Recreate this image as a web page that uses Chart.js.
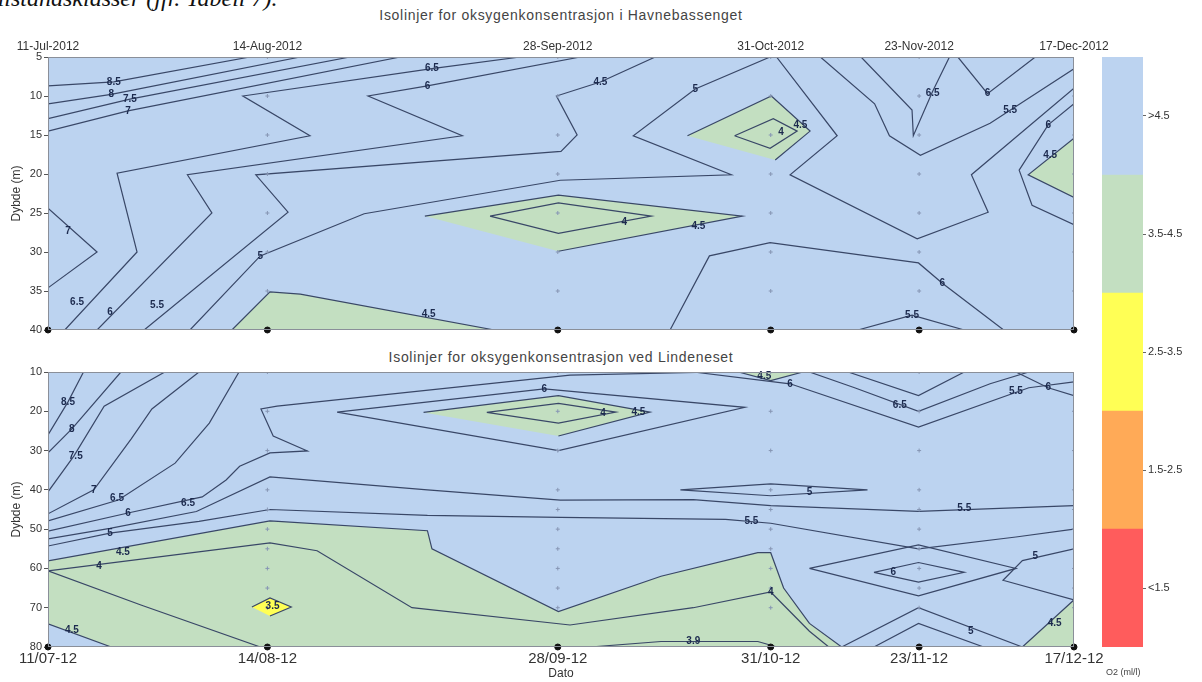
<!DOCTYPE html>
<html>
<head>
<meta charset="utf-8">
<script src="https://cdn.jsdelivr.net/npm/chart.js@4.4.1/dist/chart.umd.min.js"></script>
<style>
  html, body { margin: 0; padding: 0; background: #fff; width: 1202px; height: 682px; overflow: hidden;
               font-family: "Liberation Sans", Arial, sans-serif; }
  .abs { position: absolute; }
  #doc { left: -9px; top: -15px; font: italic 24px "Liberation Serif", serif; color: #111; white-space: nowrap; }
  .ttl { font-size: 14px; letter-spacing: 0.7px; color: #444; white-space: nowrap; transform: translateX(-50%); }
  #unit { left: 1106px; top: 667px; font-size: 9px; color: #444; }
</style>
</head>
<body>
<div id="doc" class="abs">tilstandsklasser (jfr. Tabell 7).</div>
<div class="abs ttl" style="left:561px; top:7px;">Isolinjer for oksygenkonsentrasjon i Havnebassenget</div>
<div class="abs ttl" style="left:561px; top:349px;">Isolinjer for oksygenkonsentrasjon ved Lindeneset</div>
<canvas id="havn" class="abs" style="left:0; top:0;" width="1130" height="340"></canvas>
<canvas id="lind" class="abs" style="left:0; top:340px;" width="1130" height="342"></canvas>
<canvas id="cbar" class="abs" style="left:1090px; top:40px;" width="112" height="642"></canvas>
<div id="unit" class="abs">O2 (ml/l)</div>
<script>
'use strict';

// ── Axes ──────────────────────────────────────────────────────────────────
const SAMPLE_DAYS     = [0, 34, 79, 112, 135, 159];   // days after 11 Jul 2012
const TOP_DATE_LABELS = ['11-Jul-2012', '14-Aug-2012', '28-Sep-2012', '31-Oct-2012', '23-Nov-2012', '17-Dec-2012'];
const BOT_DATE_LABELS = ['11/07-12', '14/08-12', '28/09-12', '31/10-12', '23/11-12', '17/12-12'];
const HAVN_DEPTHS     = [5, 10, 15, 20, 25, 30, 35, 40];
const LIND_DEPTHS     = [10, 20, 30, 40, 50, 60, 70, 80];

// ── Colour classes (O2, ml/l) ─────────────────────────────────────────────
const O2_CLASSES = ['<1.5', '1.5-2.5', '2.5-3.5', '3.5-4.5', '>4.5'];
const O2_COLOURS = ['#ff5c5c', '#ffaa57', '#ffff55', '#c3dfc1', '#bcd3f0'];
const COL_LINE   = '#394767';

// ── Havnebassenget: isolines [day, depth] ─────────────────────────────────
const HAVN_ISOLINES = [
  [[0, 8.7], [10.2, 8.2], [31.3, 5]],
  [[0, 11.0], [9.8, 9.8], [39.1, 5]],
  [[0, 12.9], [12.7, 10.4], [46.8, 5]],
  [[0, 14.5], [12.4, 11.9], [54.6, 5]],
  [[0, 24.4], [7.6, 30.0], [0, 34.6]],
  [[2.6, 40], [13.8, 30.0], [10.7, 19.9], [40.6, 15.1], [30.2, 10.0], [59.5, 6.5], [73.2, 5]],
  [[7.6, 40], [25.4, 25.0], [21.6, 20.1], [64.2, 15.1], [49.6, 10.0], [58.8, 8.7], [82.5, 5]],
  [[14.9, 40], [37.2, 24.9], [32.2, 20.1], [79.5, 17.1], [82.0, 15.0], [78.8, 10.0], [85.6, 8.2], [94.1, 5]],
  [[22.0, 40], [32.9, 30.5], [49.0, 25.1], [79.4, 20.8], [105.9, 20.1], [90.7, 15.1], [100.3, 9.1], [111.9, 5]],
  [[112.9, 5], [122.3, 15.1], [115.0, 20.1], [134.7, 28.3], [145.7, 24.9], [143.1, 20.1], [159, 9.0]],
  [[119.7, 5], [128.1, 11.0], [130.4, 15.1], [135.2, 17.6], [146.0, 13.5], [159, 6.5]],
  [[126.0, 5], [133.9, 11.8], [134.1, 15.1], [137.1, 9.4], [139.7, 5]],
  [[141.0, 5], [145.6, 9.7], [153.0, 5]],
  [[159, 11.0], [155.0, 13.7], [150.5, 19.5], [152.5, 24.0], [159, 26.5]],
  [[96.4, 40], [102.5, 30.5], [111.9, 28.8], [134.9, 31.4], [138.6, 34.0], [148.1, 40]],
  [[125.5, 40], [133.9, 38.1], [142.0, 40]],
  [[68.5, 25.4], [79.1, 23.7], [93.5, 25.4], [79.1, 27.6], [68.5, 25.4]],
  [[106.4, 15.1], [112.4, 12.9], [116.1, 14.5], [111.9, 16.7], [106.4, 15.1]],
];
const HAVN_GREEN = [
  [[28.5, 40], [34.4, 35.1], [39.1, 35.4], [69.2, 40]],
  [[58.4, 25.4], [79.1, 22.7], [107.6, 25.4], [79.1, 29.9]],
  [[99.1, 15.1], [112.1, 10.0], [118.1, 14.5], [112.7, 18.2]],
  [[159, 15.4], [151.9, 20.1], [159, 23.0]],
];
const HAVN_LABELS = [
  [10.2, 8.2, '8.5'], [9.8, 9.8, '8'], [12.7, 10.4, '7.5'], [12.4, 11.9, '7'], [3.1, 27.4, '7'],
  [4.5, 36.5, '6.5'], [9.6, 37.7, '6'], [16.9, 36.8, '5.5'], [32.9, 30.5, '5'], [59.5, 6.5, '6.5'],
  [58.8, 8.7, '6'], [85.6, 8.2, '4.5'], [100.3, 9.1, '5'], [59.0, 38.0, '4.5'], [89.3, 26.2, '4'],
  [100.8, 26.7, '4.5'], [116.6, 13.7, '4.5'], [113.6, 14.7, '4'], [155.3, 17.6, '4.5'],
  [149.1, 11.8, '5.5'], [137.1, 9.7, '6.5'], [145.6, 9.7, '6'], [155.0, 13.7, '6'],
  [138.6, 34.0, '6'], [133.9, 38.1, '5.5'],
];
const HAVN_SAMPLE_DEPTHS = [5, 10, 15, 20, 25, 30, 35];

// ── Lindeneset: isolines [day, depth] ─────────────────────────────────────
const LIND_ISOLINES = [
  [[0, 26.0], [3.1, 17.6], [5.5, 10]],
  [[0, 30.6], [3.7, 24.5], [11.3, 10]],
  [[0, 40.5], [4.0, 31.4], [8.7, 18.7], [18.1, 10]],
  [[0, 46.1], [7.1, 40.0], [12.9, 27.0], [16.1, 19.4], [23.4, 10]],
  [[0, 47.9], [10.9, 42.6], [19.7, 33.2], [25.0, 23.0], [29.6, 10]],
  [[0, 50.5], [12.4, 45.9], [23.9, 41.8], [27.6, 37.5], [29.7, 34.0], [34.4, 30.6], [40.2, 30.1],
   [34.9, 26.3], [33.0, 19.4], [35.5, 18.7], [80.9, 10.8], [104, 10]],
  [[0, 52.5], [9.6, 49.8], [23.0, 45.5], [34.4, 36.7], [58.8, 40.0], [79.4, 42.6], [100, 42.5],
   [112, 44.0], [134.9, 45.5], [159, 44.0]],
  [[0, 54.3], [9.6, 51.0], [23.4, 48.0], [34.4, 45.0], [58.8, 46.5], [79.4, 47.0], [105, 47.5],
   [112, 48.5], [134.9, 55.0], [150, 52.0], [159, 50.0]],
  [[0, 60.6], [34.4, 53.5], [41.7, 55.5], [56.4, 70.0], [80.9, 74.4], [100, 70.0], [112, 66.0], [118, 76.0], [121, 80]],
  [[0, 60.6], [14.4, 69.3], [32.9, 80]],
  [[84, 80], [95, 78.6], [110, 78.6], [113, 80]],
  [[44.8, 20.2], [76.9, 14.3], [108, 19.0], [79.1, 30.0], [44.8, 20.2]],
  [[68.0, 20.3], [79.1, 18.0], [88.0, 20.2], [79.1, 23.0], [68.0, 20.3]],
  [[118, 10], [125, 14], [134.9, 20], [146, 13], [152, 10]],
  [[124, 10], [134.9, 16], [142, 10]],
  [[100, 10], [115, 13], [134.9, 24], [152, 14], [159, 12.5]],
  [[150, 10], [155, 14], [159, 16]],
  [[98, 40], [112, 38.5], [127, 40], [112, 41.5], [98, 40]],
  [[118, 60], [134.9, 54], [150, 60], [134.9, 67], [118, 60]],
  [[128, 61], [134.9, 58.5], [142, 61], [134.9, 63.5], [128, 61]],
  [[159, 55], [151, 58], [148, 63], [159, 68]],
  [[123, 80], [134.9, 70], [151, 80]],
  [[128, 80], [134.9, 74], [145, 80]],
];
const LIND_GREEN = [
  [[0, 58.1], [34.4, 47.9], [58.8, 50.4], [59.5, 55.0], [79.1, 71.0], [95, 62], [110, 56], [112, 56],
   [114, 65], [118, 74], [123, 80], [9.8, 80], [0, 74.1]],
  [[58.2, 20.3], [79.1, 16.0], [93.3, 20.2], [79.1, 26.3]],
  [[107, 10], [112, 12.2], [117, 10]],
  [[151, 80], [159, 68], [159, 80]],
];
const LIND_YELLOW = [
  [[31.6, 69.8], [34.4, 67.5], [37.7, 69.8], [34.4, 72.1]],
];
const LIND_LABELS = [
  [3.1, 17.6, '8.5'], [3.7, 24.5, '8'], [4.3, 31.4, '7.5'], [7.1, 40.0, '7'], [10.7, 42.1, '6.5'],
  [12.4, 45.9, '6'], [21.7, 43.3, '6.5'], [9.6, 51.0, '5'], [11.6, 55.8, '4.5'], [7.9, 59.4, '4'],
  [3.7, 75.8, '4.5'], [34.8, 69.6, '3.5'], [76.9, 14.3, '6'], [91.5, 20.2, '4.5'], [86.0, 20.4, '4'],
  [111, 11, '4.5'], [132, 18.5, '6.5'], [115, 13, '6'], [150, 15, '5.5'], [155, 14, '6'],
  [118, 40.6, '5'], [142, 44.8, '5.5'], [131, 61, '6'], [153, 57, '5'], [109, 48, '5.5'],
  [112, 66, '4'], [100, 78.6, '3.9'], [156, 74, '4.5'], [143, 76, '5'],
];
const LIND_SAMPLE_DEPTHS = [10, 20, 30, 40, 45, 50, 55, 60, 65, 70];

// ── Helpers ───────────────────────────────────────────────────────────────
const toXY = pts => pts.map(p => ({ x: p[0], y: p[1] }));

const lineSet = pts => ({
  data: toXY(pts), showLine: true, borderColor: COL_LINE, borderWidth: 1.2,
  pointRadius: 0, fill: false, tension: 0, order: 2,
});
const areaSet = (pts, colour) => ({
  data: toXY(pts), showLine: true, borderColor: COL_LINE, borderWidth: 1.2,
  pointRadius: 0, fill: 'shape', backgroundColor: colour, tension: 0, order: 3,
});

function sampleSets(sampleDepths, maxDepth) {
  const small = [], bottom = [];
  SAMPLE_DAYS.forEach((d, i) => {
    if (i > 0) sampleDepths.forEach(z => small.push({ x: d, y: z }));
    bottom.push({ x: d, y: maxDepth });
  });
  return [
    { data: small, pointStyle: 'cross', pointRadius: 2, borderColor: '#8796b4', borderWidth: 1, order: 1 },
    { data: bottom, pointStyle: 'circle', pointRadius: 3, backgroundColor: '#111', borderColor: '#111', order: 0, clip: false },
  ];
}

// Paints panel background, contour labels and frame.
const panelPlugin = {
  id: 'panel',
  beforeDatasetsDraw(chart) {
    const { ctx, chartArea: a } = chart;
    ctx.save();
    ctx.fillStyle = O2_COLOURS[4];
    ctx.fillRect(a.left, a.top, a.width, a.height);
    ctx.restore();
  },
  afterDatasetsDraw(chart, args, opts) {
    const { ctx, chartArea: a, scales } = chart;
    ctx.save();
    ctx.font = 'bold 10px "Liberation Sans", Arial, sans-serif';
    ctx.fillStyle = '#1c2a4e';
    ctx.textAlign = 'center';
    ctx.textBaseline = 'middle';
    (opts.labels || []).forEach(([d, z, t]) => {
      ctx.fillText(t, scales.x.getPixelForValue(d), scales.y.getPixelForValue(z));
    });
    ctx.strokeStyle = '#8a8f99';
    ctx.lineWidth = 1;
    ctx.strokeRect(a.left + 0.5, a.top + 0.5, a.width - 1, a.height - 1);
    ctx.restore();
  },
};

Chart.defaults.font.family = '"Liberation Sans", Arial, sans-serif';
Chart.defaults.color = '#333';

function buildPanel(canvasId, o) {
  const datasets = [
    ...o.green.map(p => areaSet(p, O2_COLOURS[3])),
    ...(o.yellow || []).map(p => ({ ...areaSet(p, O2_COLOURS[2]), order: 2.5 })),
    ...o.lines.map(lineSet),
    ...sampleSets(o.samples, o.depths[o.depths.length - 1]),
  ];
  return new Chart(document.getElementById(canvasId), {
    type: 'scatter',
    data: { datasets },
    plugins: [panelPlugin],
    options: {
      responsive: false,
      animation: false,
      layout: { padding: o.padding },
      plugins: { legend: { display: false }, tooltip: { enabled: false }, panel: { labels: o.labels } },
      scales: {
        x: {
          type: 'linear', position: o.xPos, min: 0, max: 159,
          afterBuildTicks: s => { s.ticks = SAMPLE_DAYS.map(v => ({ value: v })); },
          afterFit: s => { s.height = o.xHeight; },
          ticks: { callback: (v, i) => o.dateLabels[i], font: { size: o.xFont }, color: '#333',
                   padding: 3, maxRotation: 0, autoSkip: false },
          grid: { display: false, drawTicks: false },
          border: { display: false },
          title: o.xTitle ? { display: true, text: o.xTitle, font: { size: 12 }, color: '#333', padding: { top: 0, bottom: 1 } }
                          : { display: false },
        },
        y: {
          type: 'linear', reverse: true, min: o.depths[0], max: o.depths[o.depths.length - 1],
          afterBuildTicks: s => { s.ticks = o.depths.map(v => ({ value: v })); },
          afterFit: s => { s.width = 48; },
          ticks: { font: { size: 11 }, color: '#333', padding: 2 },
          grid: { display: true, drawOnChartArea: false, tickLength: 4, color: '#555' },
          border: { display: false },
          title: { display: true, text: 'Dybde (m)', font: { size: 12 }, color: '#333', padding: { top: 9, bottom: 0 } },
        },
      },
    },
  });
}

buildPanel('havn', {
  lines: HAVN_ISOLINES, green: HAVN_GREEN, labels: HAVN_LABELS, samples: HAVN_SAMPLE_DEPTHS,
  depths: HAVN_DEPTHS, dateLabels: TOP_DATE_LABELS, xPos: 'top', xHeight: 57, xFont: 12,
  padding: { left: 0, right: 56, top: 0, bottom: 10 },
});

buildPanel('lind', {
  lines: LIND_ISOLINES, green: LIND_GREEN, yellow: LIND_YELLOW, labels: LIND_LABELS, samples: LIND_SAMPLE_DEPTHS,
  depths: LIND_DEPTHS, dateLabels: BOT_DATE_LABELS, xPos: 'bottom', xHeight: 35, xFont: 15, xTitle: 'Dato',
  padding: { left: 0, right: 56, top: 32, bottom: 0 },
});

// ── Colour bar ────────────────────────────────────────────────────────────
new Chart(document.getElementById('cbar'), {
  type: 'bar',
  data: {
    labels: ['O2'],
    datasets: O2_CLASSES.map((c, i) => ({
      label: c, data: [1], backgroundColor: O2_COLOURS[i], borderWidth: 0,
      barPercentage: 1, categoryPercentage: 1,
    })),
  },
  options: {
    responsive: false,
    animation: false,
    layout: { padding: { left: 12, top: 17, bottom: 35, right: 0 } },
    plugins: { legend: { display: false }, tooltip: { enabled: false } },
    scales: {
      x: { display: false, stacked: true },
      y: {
        stacked: true, min: 0, max: 5, position: 'right',
        afterBuildTicks: s => { s.ticks = O2_CLASSES.map((c, i) => ({ value: i + 0.5 })); },
        afterFit: s => { s.width = 59; },
        ticks: { callback: (v, i) => O2_CLASSES[i], font: { size: 11 }, color: '#333', padding: 2 },
        grid: { display: true, drawOnChartArea: false, tickLength: 3, color: '#666' },
        border: { display: false },
      },
    },
  },
});
</script>
</body>
</html>
